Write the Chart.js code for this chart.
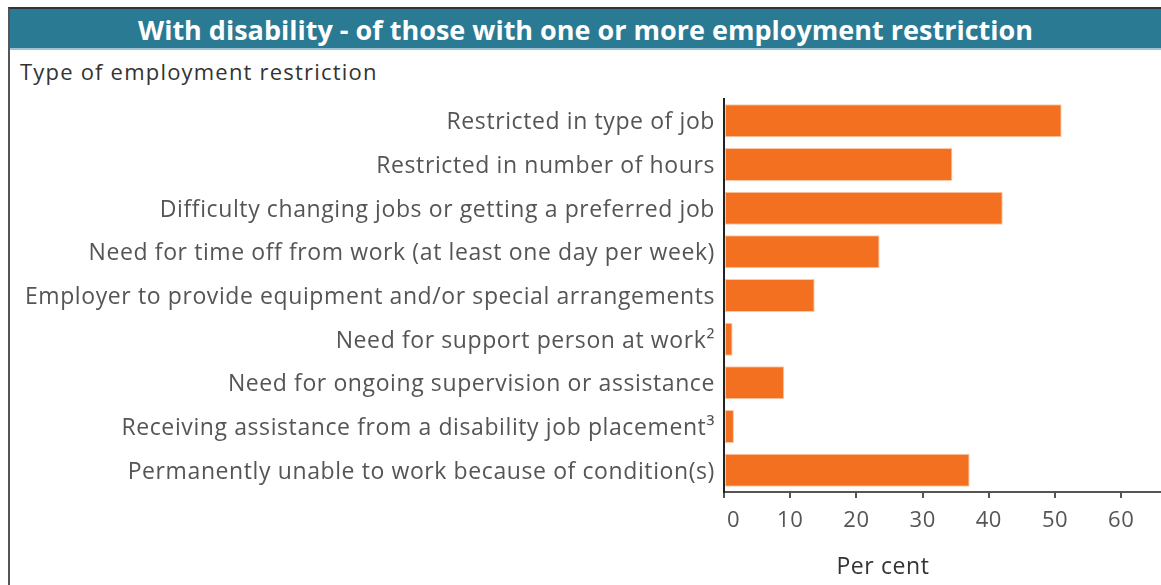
<!DOCTYPE html>
<html>
<head>
<meta charset="utf-8">
<script src="https://cdn.jsdelivr.net/npm/chart.js@4.4.1/dist/chart.umd.min.js"></script>
<style>
    body { margin: 0; background: #fff; }
    #frame {
        position: absolute; left: 8px; top: 7px; width: 1153px; height: 578px;
        border-left: 2px solid #555; border-top: 2px solid #333;
    }
    #titulo {
        position: absolute; left: 10px; top: 9px; width: 1151px; height: 39px;
        background: #2A7A94; border-bottom: 2px solid #9cc4d2;
        color: #fff; font-family: "Open Sans", sans-serif; font-weight: 700;
        font-size: 27px; line-height: 41px; text-align: center;
    }
    #subtitulo {
        position: absolute; left: 20px; top: 56px;
        color: #333; font-family: "Open Sans", sans-serif; font-size: 22px;
        letter-spacing: 1.2px;
    }
    #grafico { position: absolute; left: 0; top: 0; }
</style>
</head>
<body>
<div id="frame"></div>
<div id="titulo">With disability - of those with one or more employment restriction</div>
<div id="subtitulo">Type of employment restriction</div>
<canvas id="grafico" width="1161" height="585"></canvas>

<script>
const restricoes = [
    "Restricted in type of job",
    "Restricted in number of hours",
    "Difficulty changing jobs or getting a preferred job",
    "Need for time off from work (at least one day per week)",
    "Employer to provide equipment and/or special arrangements",
    "Need for support person at work\u00B2",
    "Need for ongoing supervision or assistance",
    "Receiving assistance from a disability job placement\u00B3",
    "Permanently unable to work because of condition(s)"
];
const porcentagens = [51.0, 34.5, 42.1, 23.5, 13.7, 1.3, 9.1, 1.5, 37.1];
const ticksX = [0, 10, 20, 30, 40, 50, 60];
const tituloEixo = "Per cent";

const fonte = "'Open Sans', sans-serif";

// letras mais espaçadas em todos os textos do canvas
const espacamentoPlugin = {
    id: "espacamento",
    beforeDraw(chart) {
        chart.ctx.letterSpacing = "0.6px";
    }
};

// escreve "Per cent" abaixo dos números do eixo
const tituloEixoPlugin = {
    id: "tituloEixo",
    afterDraw(chart) {
        const ctx = chart.ctx;
        const area = chart.chartArea;
        ctx.save();
        ctx.font = `23px ${fonte}`;
        ctx.fillStyle = "#333";
        ctx.textAlign = "center";
        ctx.textBaseline = "middle";
        ctx.fillText(tituloEixo, area.left + 159, 567);
        ctx.restore();
    }
};

function mostrarGrafico() {
    const ctx = document.getElementById("grafico");

    new Chart(ctx, {
        type: "bar",
        data: {
            labels: restricoes,
            datasets: [{
                data: porcentagens,
                backgroundColor: "#F37021",
                borderColor: "#FBC9A8",
                borderWidth: 1,
                borderSkipped: false,
                categoryPercentage: 1,
                barPercentage: 0.755
            }]
        },
        plugins: [espacamentoPlugin, tituloEixoPlugin],
        options: {
            indexAxis: "y",
            responsive: false,
            animation: false,
            layout: { padding: { left: 10, top: 99, right: 0, bottom: 0 } },
            plugins: {
                legend: { display: false },
                tooltip: { enabled: false }
            },
            scales: {
                x: {
                    min: 0,
                    max: 66,
                    afterBuildTicks: (scale) => {
                        scale.ticks = ticksX.map(v => ({ value: v }));
                    },
                    afterFit: (scale) => { scale.height = 93; },
                    ticks: {
                        color: "#555",
                        font: { family: fonte, size: 22 },
                        padding: 10,
                        // o zero fica um pouco à direita da marca
                        callback: (value) => value === 0 ? "   0" : value
                    },
                    grid: {
                        drawOnChartArea: false,
                        drawTicks: true,
                        tickLength: 6,
                        color: "#555",
                        lineWidth: 2
                    },
                    border: { color: "#555", width: 2 }
                },
                y: {
                    afterFit: (scale) => { scale.width = 714; },
                    ticks: {
                        color: "#555",
                        font: { family: fonte, size: 23 },
                        padding: 9,
                        labelOffset: 2
                    },
                    grid: { display: false, drawTicks: false },
                    border: { color: "#222", width: 2 }
                }
            }
        }
    });
}

document.addEventListener("DOMContentLoaded", mostrarGrafico);
</script>
</body>
</html>
